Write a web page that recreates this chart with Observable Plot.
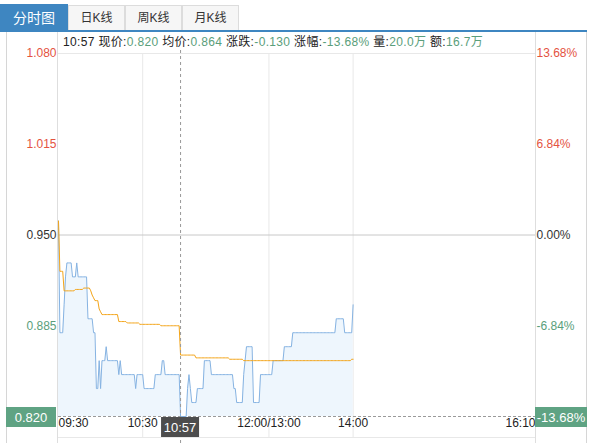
<!DOCTYPE html>
<html>
<head>
<meta charset="utf-8">
<script src="https://cdn.jsdelivr.net/npm/d3@7"></script>
<script src="https://cdn.jsdelivr.net/npm/@observablehq/plot@0.6"></script>
<style>
  body { margin: 0; background: #fff; }
  #wrap { position: relative; width: 590px; height: 443px; overflow: hidden;
          font-family: "Liberation Sans", Arial, "Noto Sans CJK SC", sans-serif; }
  .tab { position: absolute; top: 5px; height: 25px; box-sizing: border-box;
         border: 1px solid #dcdcdc; border-bottom: none; background: #f6f6f6;
         color: #333; font-size: 12px; text-align: center; line-height: 24px; }
  .tab.active { top: 4px; height: 27px; background: #3e86c1; border-color: #3e86c1;
                color: #fff; font-size: 14px; line-height: 26px; }
  #topline { position: absolute; left: 0; top: 30px; width: 587px; height: 2px; background: #3e86c1; }
  .side { position: absolute; top: 32px; width: 1px; height: 411px; background: #d6d6d6; }
  #info { position: absolute; left: 63px; top: 34px; font-size: 12px; line-height: 16px;
          color: #222; white-space: nowrap; }
  #chart { position: absolute; left: 0; top: 32px; }
</style>
</head>
<body>
<div id="wrap">
  <div id="tabs"></div>
  <div id="topline"></div>
  <div class="side" style="left:6px"></div>
  <div class="side" style="left:586px"></div>
  <div id="info"></div>
  <div id="chart"></div>
</div>
<script>
// Tabs
const tabNames = ["分时图", "日K线", "周K线", "月K线"];
const tabWidths = [68, 57, 57, 57];

// Price scale ticks (previous close 0.950 in the middle) and the matching % labels
const priceTicks = [1.080, 1.015, 0.950, 0.885, 0.820];
const pctLabels = ["13.68%", "6.84%", "0.00%", "-6.84%", "-13.68%"];
const prevClose = 0.950;

// Time axis: minutes from 09:30 on a 09:30–12:00 + 13:00–16:10 session
const timeTicks = [0, 60, 150, 210, 340];
const timeLabels = ["09:30", "10:30", "12:00/13:00", "14:00", "16:10"];

// Per-minute last price, 09:30 .. 14:00
const price = [
  0.96, 0.88, 0.88, 0.88, 0.90, 0.92, 0.93, 0.93, 0.93, 0.93,
  0.92, 0.92, 0.92, 0.93, 0.92, 0.92, 0.92, 0.92, 0.92, 0.92,
  0.92, 0.89, 0.89, 0.89, 0.89, 0.88, 0.88, 0.84, 0.84, 0.86,
  0.84, 0.86, 0.86, 0.86, 0.87, 0.86, 0.86, 0.86, 0.86, 0.86,
  0.86, 0.86, 0.86, 0.85, 0.86, 0.85, 0.85, 0.85, 0.85, 0.85,
  0.85, 0.85, 0.85, 0.85, 0.85, 0.84, 0.85, 0.85, 0.85, 0.85,
  0.85, 0.84, 0.84, 0.84, 0.84, 0.84, 0.84, 0.84, 0.84, 0.85,
  0.85, 0.85, 0.85, 0.85, 0.86, 0.86, 0.85, 0.85, 0.85, 0.85,
  0.85, 0.85, 0.85, 0.85, 0.85, 0.85, 0.85, 0.82, 0.82, 0.82,
  0.82, 0.82, 0.84, 0.85, 0.84, 0.83, 0.83, 0.83, 0.83, 0.84,
  0.84, 0.84, 0.84, 0.84, 0.86, 0.86, 0.86, 0.86, 0.86, 0.85,
  0.85, 0.85, 0.85, 0.85, 0.85, 0.85, 0.85, 0.85, 0.85, 0.85,
  0.85, 0.85, 0.85, 0.85, 0.85, 0.84, 0.84, 0.83, 0.83, 0.83,
  0.83, 0.83, 0.85, 0.86, 0.87, 0.87, 0.87, 0.87, 0.87, 0.83,
  0.83, 0.83, 0.83, 0.83, 0.85, 0.85, 0.85, 0.85, 0.85, 0.85,
  0.85, 0.85, 0.85, 0.86, 0.86, 0.86, 0.86, 0.86, 0.86, 0.86,
  0.86, 0.87, 0.87, 0.87, 0.87, 0.87, 0.87, 0.88, 0.88, 0.88,
  0.88, 0.88, 0.88, 0.88, 0.88, 0.88, 0.88, 0.88, 0.88, 0.88,
  0.88, 0.88, 0.88, 0.88, 0.88, 0.88, 0.88, 0.88, 0.88, 0.88,
  0.88, 0.88, 0.88, 0.88, 0.88, 0.88, 0.88, 0.88, 0.89, 0.89,
  0.89, 0.89, 0.89, 0.89, 0.88, 0.88, 0.88, 0.88, 0.88, 0.88,
  0.90
];

// Per-minute average price
const avgPrice = [
  0.960, 0.924, 0.924, 0.924, 0.910, 0.910, 0.910, 0.910, 0.910, 0.910,
  0.910, 0.910, 0.911, 0.911, 0.911, 0.911, 0.911, 0.911, 0.912, 0.912,
  0.912, 0.912, 0.912, 0.910, 0.907, 0.905, 0.903, 0.903, 0.903, 0.897,
  0.895, 0.893, 0.893, 0.893, 0.893, 0.893, 0.893, 0.893, 0.893, 0.893,
  0.893, 0.893, 0.893, 0.888, 0.888, 0.888, 0.888, 0.888, 0.888, 0.887,
  0.887, 0.887, 0.887, 0.887, 0.887, 0.887, 0.887, 0.887, 0.886, 0.886,
  0.886, 0.886, 0.886, 0.886, 0.886, 0.886, 0.886, 0.886, 0.886, 0.886,
  0.886, 0.886, 0.886, 0.885, 0.885, 0.885, 0.885, 0.885, 0.885, 0.885,
  0.885, 0.885, 0.885, 0.885, 0.885, 0.885, 0.885, 0.864, 0.864, 0.864,
  0.864, 0.864, 0.864, 0.864, 0.864, 0.864, 0.864, 0.864, 0.862, 0.862,
  0.862, 0.862, 0.862, 0.862, 0.862, 0.862, 0.862, 0.862, 0.862, 0.862,
  0.862, 0.862, 0.862, 0.862, 0.862, 0.862, 0.862, 0.862, 0.862, 0.862,
  0.862, 0.862, 0.861, 0.861, 0.861, 0.861, 0.861, 0.861, 0.861, 0.861,
  0.861, 0.861, 0.860, 0.860, 0.860, 0.860, 0.860, 0.860, 0.860, 0.860,
  0.860, 0.860, 0.860, 0.860, 0.860, 0.860, 0.860, 0.860, 0.860, 0.860,
  0.860, 0.860, 0.860, 0.860, 0.860, 0.860, 0.860, 0.860, 0.860, 0.860,
  0.860, 0.860, 0.860, 0.860, 0.860, 0.860, 0.860, 0.860, 0.860, 0.860,
  0.860, 0.860, 0.860, 0.860, 0.860, 0.860, 0.860, 0.860, 0.860, 0.860,
  0.860, 0.860, 0.860, 0.860, 0.860, 0.860, 0.860, 0.860, 0.860, 0.860,
  0.860, 0.860, 0.860, 0.860, 0.860, 0.860, 0.860, 0.860, 0.860, 0.860,
  0.860, 0.860, 0.860, 0.860, 0.860, 0.860, 0.860, 0.860, 0.860, 0.861,
  0.861
];

// Crosshair position (10:57) and the quote shown for it
const cursorMinute = 87;
const cursorLabel = "10:57";
const volumeText = "20.0万";
const amountText = "16.7万";

const RED = "#e4533f", GREEN = "#5a9e7b", GRAY = "#333", TAG = "#5fa383";
const tickColor = d => d > prevClose ? RED : d < prevClose ? GREEN : GRAY;

// Tabs
const tabs = document.getElementById("tabs");
let left = 0;
tabNames.forEach((name, i) => {
  const el = document.createElement("div");
  el.className = "tab" + (i === 0 ? " active" : "");
  el.style.left = left + "px";
  el.style.width = tabWidths[i] + "px";
  el.textContent = name;
  tabs.appendChild(el);
  left += tabWidths[i];
});

// Quote line for the crosshair minute
const p = price[cursorMinute], a = avgPrice[cursorMinute];
const chg = p - prevClose;
const chgColor = chg > 0 ? RED : chg < 0 ? GREEN : GRAY;
const parts = [
  [cursorLabel + " 现价:", "#222"], [p.toFixed(3), chgColor],
  [" 均价:", "#222"], [a.toFixed(3), a > prevClose ? RED : GREEN],
  [" 涨跌:", "#222"], [chg.toFixed(3), chgColor],
  [" 涨幅:", "#222"], [(chg / prevClose * 100).toFixed(2) + "%", chgColor],
  [" 量:", "#222"], [volumeText, GREEN],
  [" 额:", "#222"], [amountText, GREEN]
];
const info = document.getElementById("info");
parts.forEach(([t, c]) => {
  const s = document.createElement("span");
  s.textContent = t; s.style.color = c;
  info.appendChild(s);
});
// spread the quote line across its slot above the chart
const infoWidth = 420;
const nChars = parts.reduce((n, [t]) => n + t.length, 0);
const natural = info.getBoundingClientRect().width;
info.style.letterSpacing = Math.max(0, (infoWidth - natural) / nChars) + "px";

const series = price.map((v, i) => ({m: i, price: v, avg: avgPrice[i]}));
const low = priceTicks[priceTicks.length - 1];

const chart = Plot.plot({
  width: 590,
  height: 411,
  marginTop: 21,
  marginBottom: 27,
  marginLeft: 58,
  marginRight: 55,
  x: {domain: [timeTicks[0], timeTicks[timeTicks.length - 1]], axis: null},
  y: {domain: [low, priceTicks[0]], axis: null},
  style: {fontFamily: '"Liberation Sans", Arial, sans-serif', fontSize: "12px", background: "transparent", overflow: "visible"},
  marks: [
    Plot.ruleY([priceTicks[0]], {stroke: "#e8e8e8"}),
    Plot.ruleX(timeTicks.slice(1, 4), {stroke: "#e8e8e8", insetBottom: -21}),
    Plot.ruleX([timeTicks[0]], {stroke: "#dedede", dx: -1, insetTop: -21, insetBottom: -27}),
    Plot.ruleX([timeTicks[4]], {stroke: "#dedede", insetTop: -21, insetBottom: -27}),
    Plot.ruleY([low], {stroke: "#e8e8e8", dy: 21}),
    Plot.areaY(series, {x: "m", y1: low, y2: "price", fill: "#eef6fd"}),
    Plot.ruleY([prevClose], {stroke: "#c8c8c8"}),
    Plot.ruleY([low], {stroke: "#9a9a9a", strokeDasharray: "3,2"}),
    Plot.lineY(series, {x: "m", y: "price", stroke: "#86b3e2", strokeWidth: 1}),
    Plot.lineY(series, {x: "m", y: "avg", stroke: "#f3a418", strokeWidth: 1}),
    Plot.ruleX([cursorMinute], {stroke: "#999", strokeDasharray: "3,3", insetTop: -3, insetBottom: -27}),
    // price labels (left) and change labels (right)
    Plot.text(priceTicks.slice(0, 4), {y: d => d, text: d => d.toFixed(3), frameAnchor: "left", textAnchor: "end", dx: -2, fill: tickColor}),
    Plot.text(priceTicks.slice(0, 4), {y: d => d, text: (d, i) => pctLabels[i], frameAnchor: "right", textAnchor: "start", dx: 1, fill: tickColor}),
    // time labels
    Plot.text(timeTicks.slice(0, 1), {x: d => d, text: (d, i) => timeLabels[i], frameAnchor: "bottom", dy: 10, textAnchor: "start", fill: "#222"}),
    Plot.text(timeTicks.slice(1, 4), {x: d => d, text: (d, i) => timeLabels[i + 1], frameAnchor: "bottom", dy: 10, textAnchor: "middle", fill: "#222"}),
    Plot.text(timeTicks.slice(4), {x: d => d, text: () => timeLabels[4], frameAnchor: "bottom", dy: 10, textAnchor: "end", fill: "#222"})
  ]
});
document.getElementById("chart").appendChild(chart);

// Value tags on the axes and under the crosshair
const xs = chart.scale("x"), ys = chart.scale("y");
const svg = d3.select(chart);
const PANEL_LEFT = 6, PANEL_RIGHT = 587;
function tag(x0, x1, y0, y1, label, bg) {
  const g = svg.append("g");
  g.append("rect").attr("x", x0).attr("y", y0).attr("width", x1 - x0).attr("height", y1 - y0).attr("fill", bg);
  g.append("text").attr("x", (x0 + x1) / 2).attr("y", (y0 + y1) / 2).attr("dy", "0.36em")
    .attr("text-anchor", "middle").attr("fill", "#fff").attr("font-size", 13).text(label);
}
const yb = ys.apply(low);
tag(PANEL_LEFT, xs.apply(timeTicks[0]) - 2, yb - 9, yb + 11, price[cursorMinute].toFixed(3), TAG);
tag(xs.apply(timeTicks[4]), PANEL_RIGHT, yb - 9, yb + 11, pctLabels[4], TAG);
const cx = xs.apply(cursorMinute);
tag(cx - 19, cx + 19, yb + 1, yb + 21, cursorLabel, "#4d4d4d");
</script>
</body>
</html>
